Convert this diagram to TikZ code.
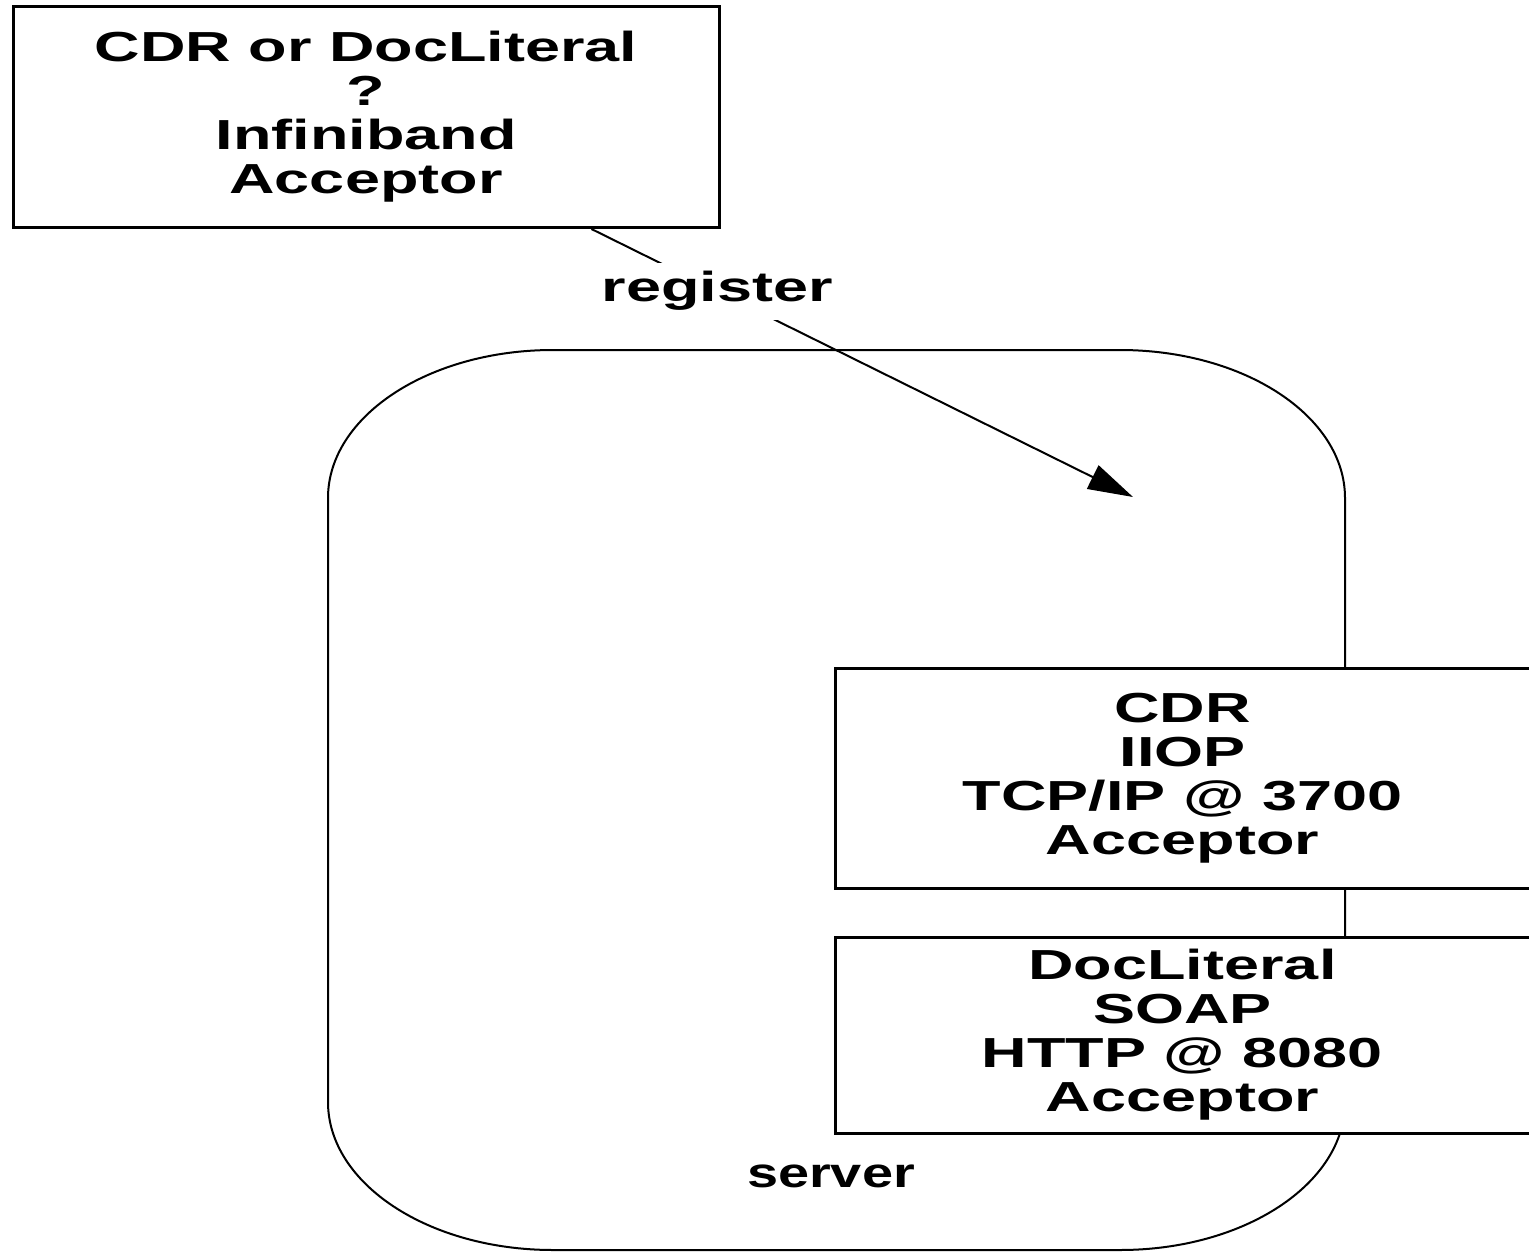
\documentclass[tikz,border=0pt]{standalone}
\usepackage{fontspec}
\newfontfamily\labfont{Liberation Sans}[FakeStretch=1.5]
\newfontfamily\srvfont{Liberation Sans}[FakeStretch=1.33]
\usetikzlibrary{arrows.meta}
\begin{document}
\begin{tikzpicture}[x=1pt,y=-1pt,
  box/.style={draw,line width=3pt,fill=white,inner sep=0pt,align=center,
    font=\labfont\bfseries\fontsize{42}{44}\selectfont},
  lbl/.style={font=\labfont\bfseries\fontsize{42}{44}\selectfont},
  outline/.style={draw,line width=2pt}]
\useasboundingbox (0,0) rectangle (1529,1253);
% server outline
\draw[outline] (328,498) .. controls (328,416.3) and (428.7,350) .. (553,350)
  -- (1120,350) .. controls (1244.3,350) and (1345,416.3) .. (1345,498)
  -- (1345,1102) .. controls (1345,1183.7) and (1244.3,1250) .. (1120,1250)
  -- (553,1250) .. controls (428.7,1250) and (328,1183.7) .. (328,1102) -- cycle;
\node[font=\srvfont\bfseries\fontsize{42}{44}\selectfont] (server) at (831,1176) {server};
% boxes
\node[box,minimum width=706pt,minimum height=221pt] (top) at (366,117)
  {CDR or DocLiteral\\?\\Infiniband\\Acceptor};
\node[box,minimum width=695pt,minimum height=220pt] (cdr) at (1182.5,778)
  {CDR\\IIOP\\TCP/IP @ 3700\\Acceptor};
\node[box,minimum width=695pt,minimum height=196pt] (doc) at (1182.5,1035)
  {DocLiteral\\SOAP\\HTTP @ 8080\\Acceptor};
% register arrow
\coordinate (regend) at (1133,497);
\draw[line width=2pt,-{Triangle[length=45pt,width=26pt]}] (top) -- (regend)
  node[lbl,pos=0.232,fill=white,inner xsep=3pt,inner ysep=9pt] (reg) {register};
\end{tikzpicture}
\end{document}
